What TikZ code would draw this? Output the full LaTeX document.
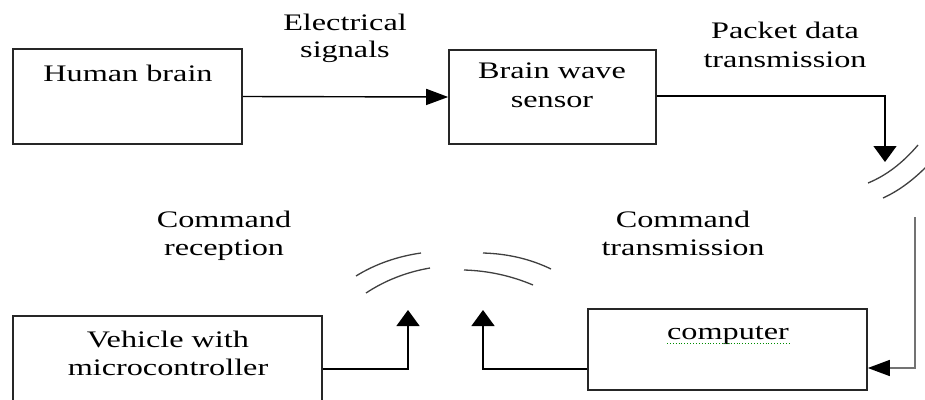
\documentclass[tikz,border=0pt]{standalone}
\usepackage{fontspec}
\setmainfont{Liberation Serif}[FakeStretch=1.36]
\usetikzlibrary{arrows.meta,calc}
\begin{document}
\begin{tikzpicture}[x=1pt,y=-1pt,
 box/.style={draw=black!85, line width=1.6pt, inner sep=0pt},
 txt/.style={inner sep=0pt, anchor=base, font=\fontsize{23.7}{28}\selectfont},
 conn/.style={line width=1.4pt},
 harr/.style={-{Triangle[length=22pt,width=16pt,color=black]}},
 varr/.style={-{Triangle[length=16pt,width=23pt,color=black]}},
 wave/.style={line width=1.3pt, black!75},
]
\clip (0,0) rectangle (925,399);
\fill[white] (0,0) rectangle (925,399);

% boxes
\node[box, minimum width=229pt, minimum height=95pt] (hb) at (127.5,96.5) {};
\node[txt] (hbt) at (128,81) {Human brain};
\node[box, minimum width=207pt, minimum height=94pt] (bws) at (552.5,97) {};
\node[txt] (bwt1) at (552,78) {Brain wave};
\node[txt] (bwt2) at (552,107) {sensor};
\node[box, minimum width=309pt, minimum height=89pt] (veh) at (167.5,360.5) {};
\node[txt] (vt1) at (168,347) {Vehicle with};
\node[txt] (vt2) at (168,375) {microcontroller};
\node[box, minimum width=279pt, minimum height=81pt] (comp) at (727.5,349.5) {};
\node[txt] (ct) at (728,339) {computer};
\draw[green!55!black, line width=0.9pt, dotted] ([yshift=-4pt]ct.base west) -- ([yshift=-4pt]ct.base east);

% labels
\node[txt] (el1) at (345,30) {Electrical};
\node[txt] (el2) at (345,57) {signals};
\node[txt] (pd1) at (785,38) {Packet data};
\node[txt] (pd2) at (785,67) {transmission};
\node[txt] (cr1) at (224,227) {Command};
\node[txt] (cr2) at (224,255) {reception};
\node[txt] (ctr1) at (683,227) {Command};
\node[txt] (ctr2) at (683,255) {transmission};

% connectors
\coordinate (pktip) at (885,162);
\coordinate (rtop) at (915,217);
\coordinate (ctip) at (483,310);
\coordinate (vtip) at (408,310);
\draw[conn,harr] (hb.east) -- (bws.west);
\draw[conn,varr] ([yshift=1pt]bws.east) -| (pktip);
\draw[conn,black!55,harr] (rtop) |- ([yshift=-18.5pt]comp.east);
\draw[conn,varr] ([yshift=-19.5pt]comp.west) -| (ctip);
\draw[conn,varr] ([yshift=-8.5pt]veh.east) -| (vtip);

% waves
\draw[wave] (868,183) .. controls (886,175.7) and (902.7,163) .. (918,145);
\draw[wave] (883,198) .. controls (897.7,191.3) and (911.7,181.3) .. (926,167);
\draw[wave] (356,276) .. controls (375.3,264) and (397.7,256.3) .. (421,253);
\draw[wave] (366,293) .. controls (385.3,280.3) and (406.7,272) .. (430,268);
\draw[wave] (483,253) .. controls (507.7,253.7) and (530.3,259) .. (551,269);
\draw[wave] (464,270) .. controls (488,270.7) and (511,275.7) .. (533,285);
\end{tikzpicture}
\end{document}
